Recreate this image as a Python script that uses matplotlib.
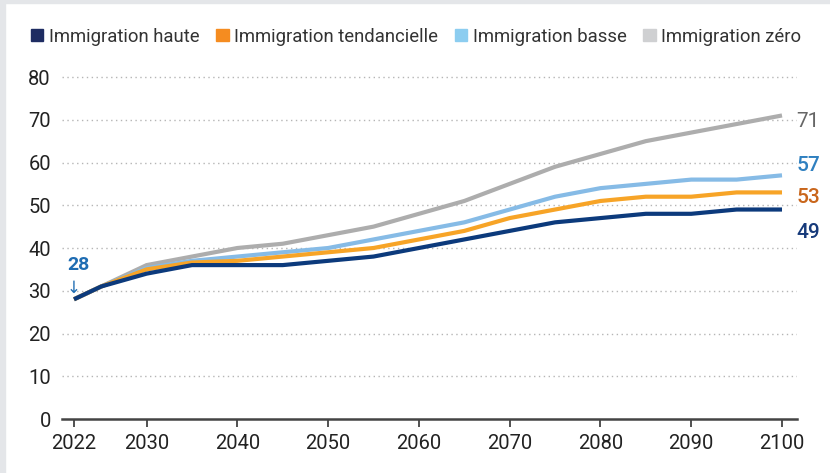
import matplotlib.pyplot as plt
from matplotlib.patches import Rectangle

plt.rcParams['font.family'] = ['Roboto', 'DejaVu Sans']

# Years and scenarios
years = [2022, 2025, 2030, 2035, 2040, 2045, 2050, 2055, 2060, 2065,
         2070, 2075, 2080, 2085, 2090, 2095, 2100]
haute = [28, 31, 34, 36, 36, 36, 37, 38, 40, 42, 44, 46, 47, 48, 48, 49, 49]
tendancielle = [28, 31, 35, 36.6, 37, 38, 39, 40, 42, 44, 47, 49, 51, 52, 52, 53, 53]
basse = [28, 31, 35.3, 37, 38, 39, 40, 42, 44, 46, 49, 52, 54, 55, 56, 56, 57]
zero = [28, 31, 36, 38, 40, 41, 43, 45, 48, 51, 55, 59, 62, 65, 67, 69, 71]

names = ['Immigration haute', 'Immigration tendancielle',
         'Immigration basse', 'Immigration zéro']
line_colors = ['#0c3a7c', '#f7a427', '#86bbe6', '#adadad']
legend_colors = ['#1e2c62', '#f58c20', '#8ccdf0', '#cfd0d2']
end_colors = ['#163a7a', '#c9661c', '#2f80c0', '#666666']
xticks = [2022, 2030, 2040, 2050, 2060, 2070, 2080, 2090, 2100]

fig = plt.figure(figsize=(8.3, 4.73), dpi=100)
fig.patches.append(Rectangle((0, 0), 5 / 830, 1, transform=fig.transFigure,
                             color='#e4e6e9', zorder=0))
fig.patches.append(Rectangle((0, 1 - 3 / 473), 1, 3 / 473, transform=fig.transFigure,
                             color='#e4e6e9', zorder=0))

ax = fig.add_axes([62 / 830, 54 / 473, 735 / 830, 81 * 4.275 / 473])
ax.set_xlim(2022 - 12 / 9.08, 2100 + 15 / 9.08)
ax.set_ylim(0, 81)

series = [haute, tendancielle, basse, zero]
for i in [3, 2, 1, 0]:
    ax.plot(years, series[i], color=line_colors[i], lw=3, zorder=3 + (3 - i),
            solid_capstyle='butt', solid_joinstyle='miter')

for s, c, dy, w in zip(series, end_colors, [-16.5, -3.3, 7, -4],
                       ['medium', 'medium', 'medium', 'normal']):
    ax.annotate(str(s[-1]), xy=(years[-1], s[-1]), xytext=(10.5, dy), textcoords='offset points',
                ha='left', va='center', fontsize=15, color=c, fontweight=w)

ax.annotate('28', xy=(years[0], haute[0]), xytext=(3, 25), textcoords='offset points',
            ha='center', va='center', fontsize=14, color='#1f6db3', fontweight='bold')
ax.annotate('↓', xy=(years[0], haute[0]), xytext=(0, 8.5), textcoords='offset points',
            ha='center', va='center', fontsize=12, color='#1f6db3', family='DejaVu Sans')

ax.set_yticks(range(0, 81, 10))
ax.set_xticks(xticks)
ax.tick_params(axis='y', length=0, pad=8, labelsize=14.5, labelcolor='#222222')
ax.tick_params(axis='x', length=6, width=1.2, color='#333333', pad=5,
               labelsize=14.5, labelcolor='#222222')
for v in range(10, 81, 10):
    ax.axhline(v, color='#b5b5b5', lw=1, ls=(0, (1, 2.5)), zorder=1)
for side in ['top', 'right', 'left']:
    ax.spines[side].set_visible(False)
ax.spines['bottom'].set_color('#444444')
ax.spines['bottom'].set_linewidth(1.8)

# legend
handles = [Rectangle((0, 0), 1, 1, color=c) for c in legend_colors]
fig.legend(handles, names, loc='upper left', bbox_to_anchor=(14 / 830, 1 - 11 / 473),
           ncol=4, frameon=False, fontsize=13.3, handlelength=0.68, handleheight=0.68,
           handletextpad=0.3, columnspacing=0.9, labelcolor='#333333')

fig.savefig('out.png', dpi=100)
